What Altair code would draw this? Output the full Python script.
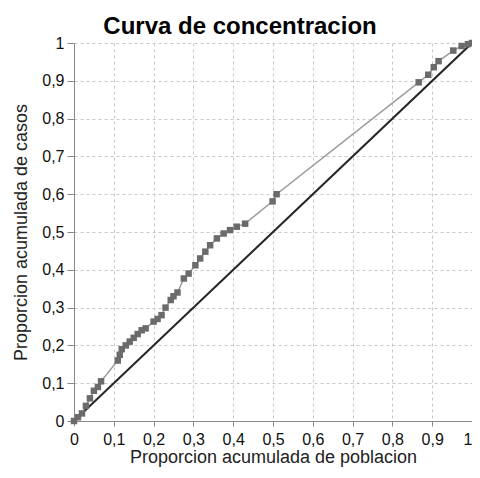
import altair as alt
import pandas as pd

pob = [0, 0.01, 0.02, 0.03, 0.04, 0.05, 0.06, 0.068, 0.11, 0.115, 0.12, 0.13, 0.14, 0.15,
       0.16, 0.17, 0.18, 0.2, 0.21, 0.22, 0.23, 0.243, 0.25, 0.26, 0.276, 0.288, 0.305,
       0.317, 0.33, 0.342, 0.359, 0.376, 0.392, 0.409, 0.43, 0.499, 0.509, 0.866, 0.89,
       0.904, 0.916, 0.953, 0.974, 0.99, 1]
casos = [0, 0.01, 0.02, 0.04, 0.06, 0.08, 0.09, 0.105, 0.16, 0.175, 0.19, 0.2, 0.21, 0.22,
         0.23, 0.24, 0.245, 0.263, 0.27, 0.28, 0.30, 0.32, 0.33, 0.34, 0.377, 0.39, 0.412,
         0.43, 0.448, 0.465, 0.483, 0.496, 0.505, 0.514, 0.522, 0.581, 0.6, 0.896, 0.916,
         0.936, 0.952, 0.98, 0.992, 0.997, 1]
diag_x = [0, 1]
diag_y = [0, 1]
ticks = [0, 0.1, 0.2, 0.3, 0.4, 0.5, 0.6, 0.7, 0.8, 0.9, 1]

df = pd.DataFrame({"x": pob, "y": casos})
dd = pd.DataFrame({"x": diag_x, "y": diag_y})

lab = "replace(format(datum.value, '~g'), '.', ',')"
xenc = alt.X("x:Q", scale=alt.Scale(domain=[0, 1], nice=False),
             axis=alt.Axis(values=ticks, labelExpr=lab, tickSize=5, labelPadding=5,
                           labelAlign=alt.expr("datum.value == 1 ? 'right' : 'center'"),
                           titlePadding=1, title="Proporcion acumulada de poblacion"))
yenc = alt.Y("y:Q", scale=alt.Scale(domain=[0, 1], nice=False),
             axis=alt.Axis(values=ticks, labelExpr=lab, tickSize=7, labelPadding=3,
                           titlePadding=11, title="Proporcion acumulada de casos"))

curve = alt.Chart(df).mark_line(color="#9c9c9c", strokeWidth=1.5).encode(x=xenc, y=yenc)
diag = alt.Chart(dd).mark_line(color="#262626", strokeWidth=2).encode(x=xenc, y=yenc)
pts = alt.Chart(df).mark_point(shape="square", filled=True, color="#6b6b6b", size=42,
                               opacity=1).encode(x=xenc, y=yenc)

chart = alt.layer(curve, diag, pts).properties(
    width=398, height=378,
    autosize=alt.AutoSizeParams(type="none"),
    padding={"left": 66, "top": 35, "right": 0, "bottom": 48},
    title=alt.TitleParams("Curva de concentracion", fontSize=24, font="Liberation Sans",
                          fontWeight="bold", color="black", anchor="middle", dx=-33, dy=4,
                          offset=0)
).configure_view(stroke=None).configure_axis(
    labelFont="Liberation Sans", labelFontSize=16, labelColor="#111111",
    titleFont="Liberation Sans", titleFontSize=18, titleFontWeight="normal", titleColor="#222222",
    gridColor="#c8c8c8", gridDash=[3, 3], gridWidth=1,
    domainColor="#888888", tickColor="#888888",
    labelFlush=False, labelOverlap=False
)

chart.save("out.html", embed_options={"renderer": "svg", "actions": False})
